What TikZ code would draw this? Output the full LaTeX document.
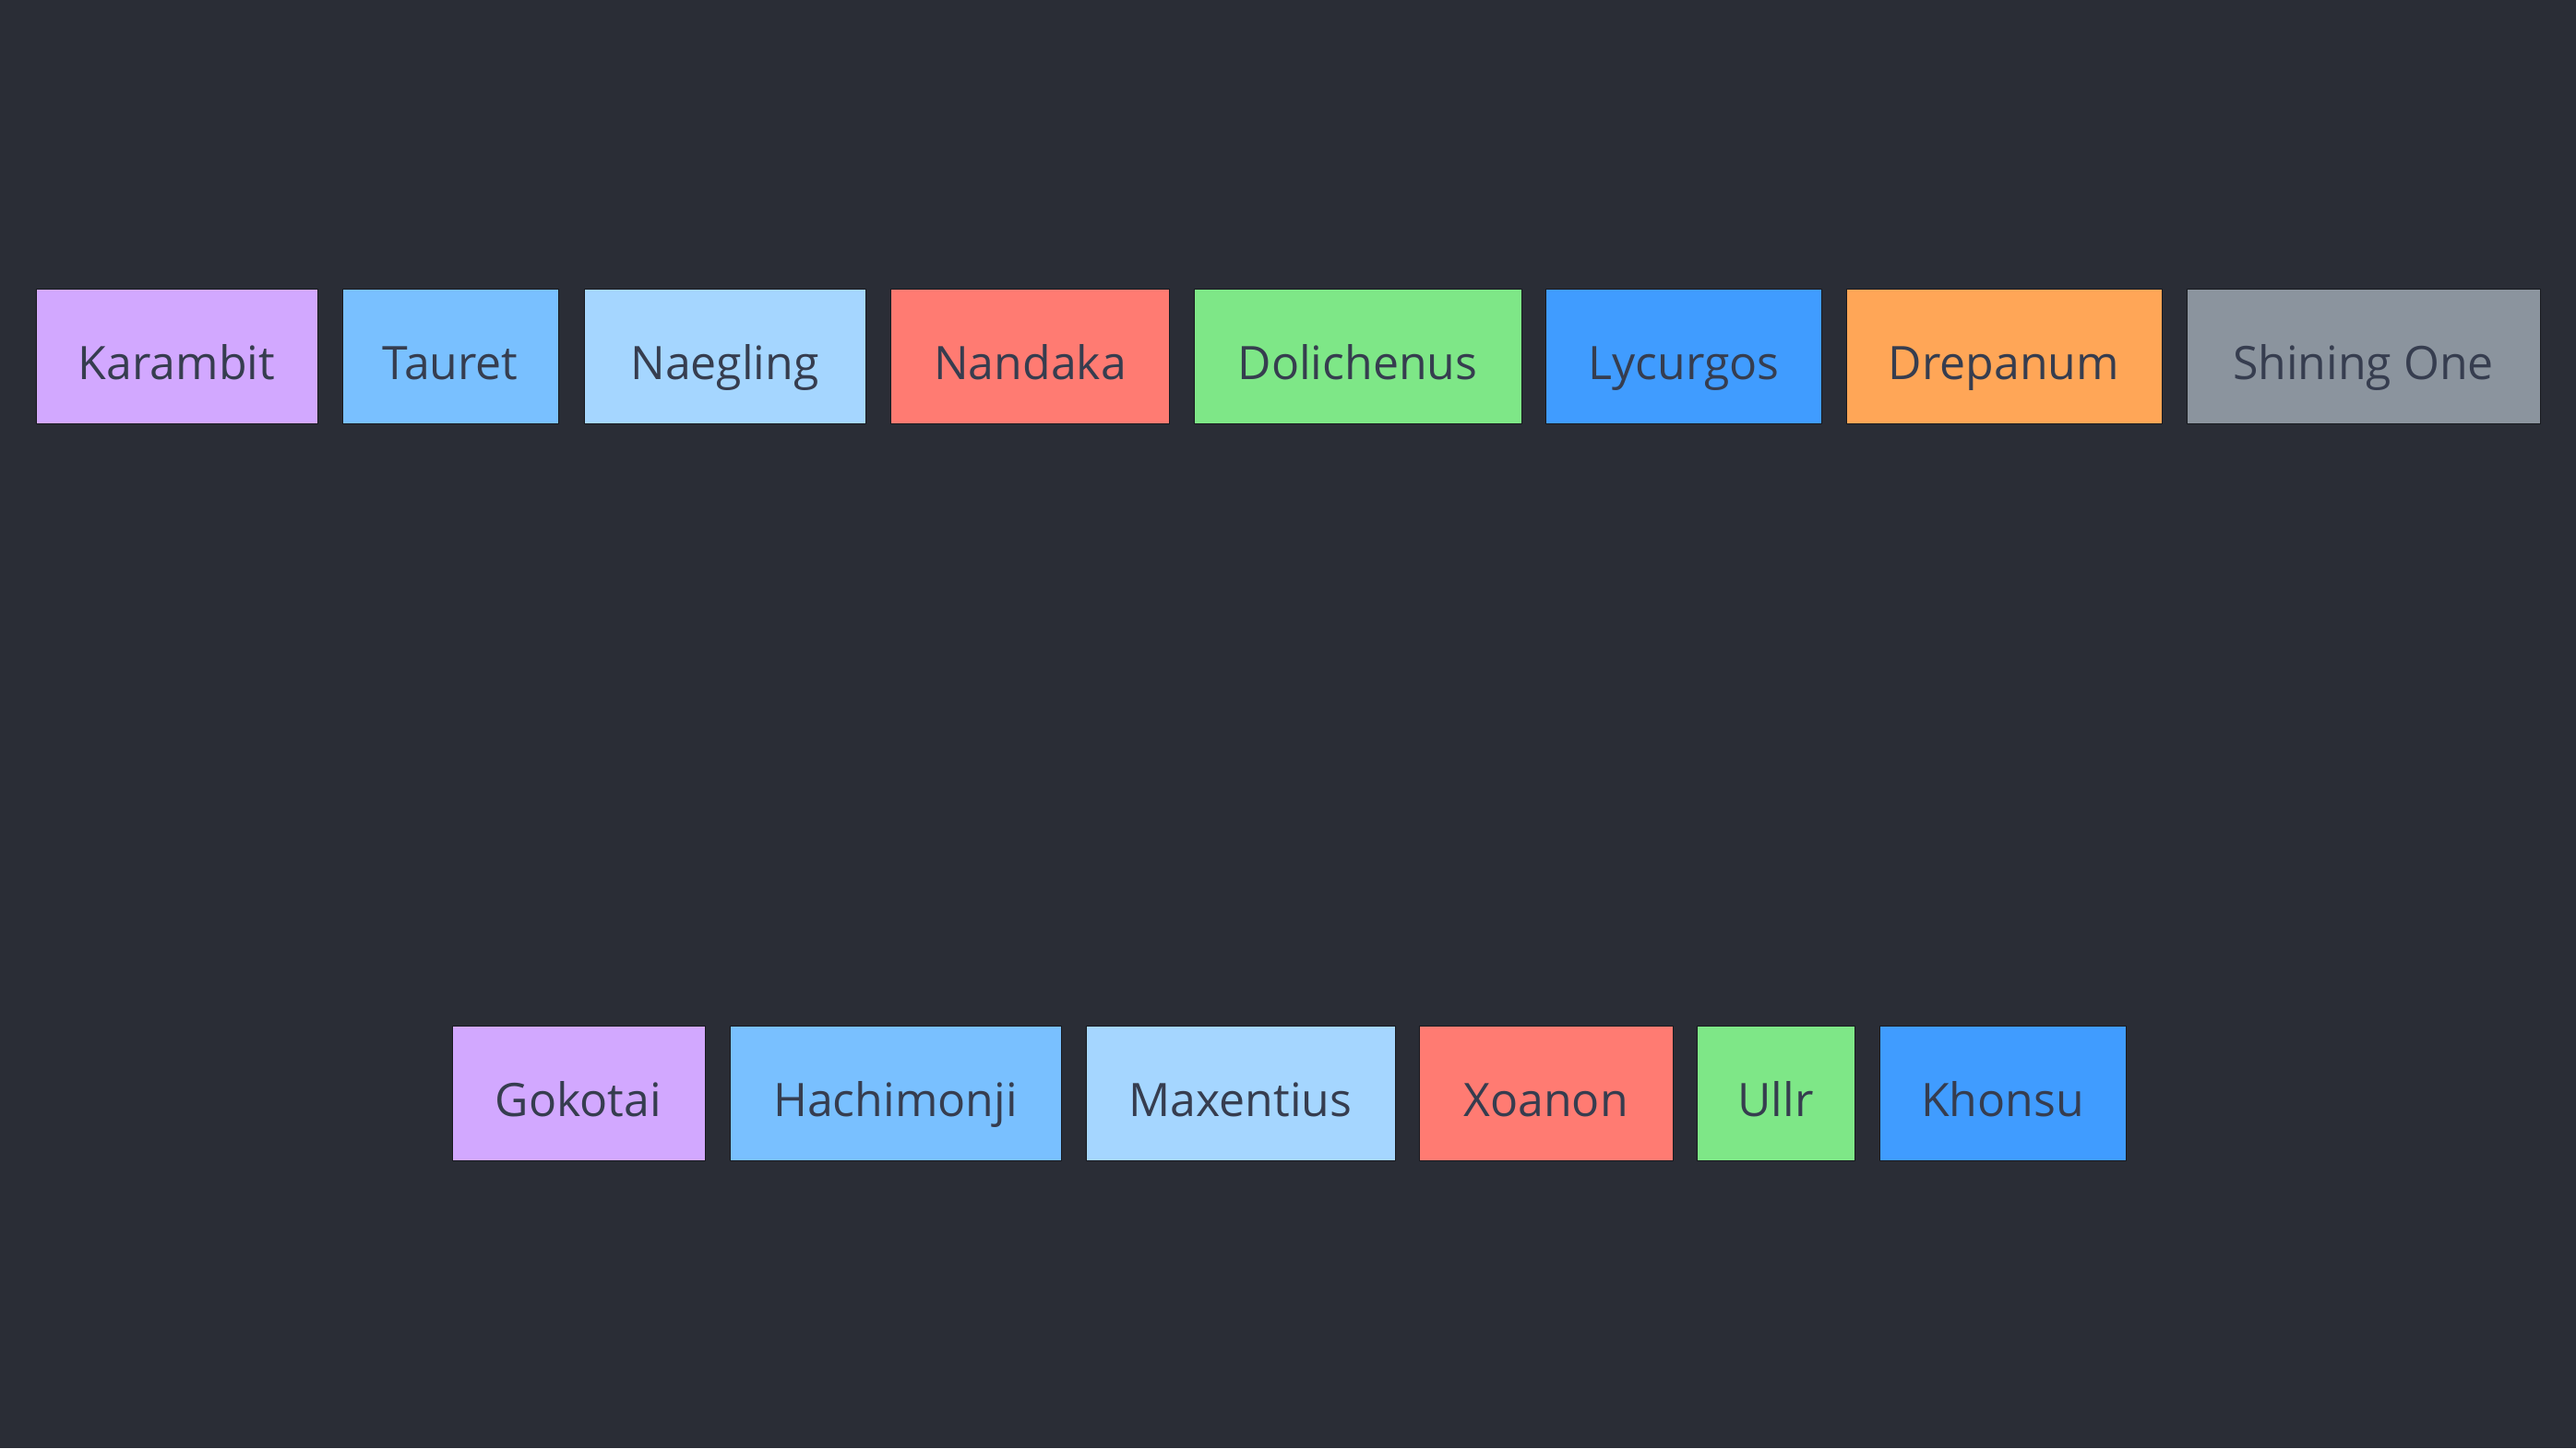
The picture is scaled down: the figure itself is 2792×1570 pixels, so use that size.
\documentclass[tikz,border=0pt]{standalone}
\usepackage{fontspec}
\setmainfont{Open Sans}
\definecolor{bg}{HTML}{2A2D36}
\definecolor{txt}{HTML}{363D4F}
\definecolor{cpurple}{HTML}{D2A8FF}
\definecolor{cblue}{HTML}{79C0FF}
\definecolor{clblue}{HTML}{A5D6FF}
\definecolor{cred}{HTML}{FF7B72}
\definecolor{cgreen}{HTML}{7EE787}
\definecolor{cdblue}{HTML}{409CFF}
\definecolor{corange}{HTML}{FFA657}
\definecolor{cgray}{HTML}{8B949E}
\tikzset{
  box/.style={rectangle, inner sep=0pt, minimum height=73pt, text=txt,
    font=\fontsize{25}{30}\selectfont, text height=18pt, text depth=0pt,
    draw=bg!60!black, line width=0.4pt}
}
\begin{document}
\begin{tikzpicture}[x=0.5pt,y=-0.5pt]
\fill[bg] (0,0) rectangle (2792,1570);
\useasboundingbox (0,0) rectangle (2792,1570);
% row 1
\node[box, fill=cpurple, minimum width=152.5pt] (karambit) at (191.5,386) {\raisebox{-3.5pt}{Karambit}};
\node[box, fill=cblue, minimum width=117pt] (tauret) at (488,386) {\raisebox{-3.5pt}{Tauret}};
\node[box, fill=clblue, minimum width=152.5pt] (naegling) at (785.5,386) {\raisebox{-3.5pt}{Naegling}};
\node[box, fill=cred, minimum width=151pt] (nandaka) at (1116.5,386) {\raisebox{-3.5pt}{Nandaka}};
\node[box, fill=cgreen, minimum width=177.5pt] (dolichenus) at (1471.5,386) {\raisebox{-3.5pt}{Dolichenus}};
\node[box, fill=cdblue, minimum width=149.5pt] (lycurgos) at (1825,386) {\raisebox{-3.5pt}{Lycurgos}};
\node[box, fill=corange, minimum width=171pt] (drepanum) at (2172,386) {\raisebox{-3.5pt}{Drepanum}};
\node[box, fill=cgray, minimum width=191.5pt] (shiningone) at (2561.5,386) {\raisebox{-3.5pt}{Shining One}};
% row 2
\node[box, fill=cpurple, minimum width=137pt] (gokotai) at (627,1185.5) {\raisebox{-3.5pt}{Gokotai}};
\node[box, fill=cblue, minimum width=179.5pt] (hachimonji) at (970.5,1185.5) {\raisebox{-3.5pt}{Hachimonji}};
\node[box, fill=clblue, minimum width=167.5pt] (maxentius) at (1344.5,1185.5) {\raisebox{-3.5pt}{Maxentius}};
\node[box, fill=cred, minimum width=137.5pt] (xoanon) at (1675.5,1185.5) {\raisebox{-3.5pt}{Xoanon}};
\node[box, fill=cgreen, minimum width=85.5pt] (ullr) at (1924.5,1185.5) {\raisebox{-3.5pt}{Ullr}};
\node[box, fill=cdblue, minimum width=133.5pt] (khonsu) at (2170.5,1185.5) {\raisebox{-3.5pt}{Khonsu}};
\end{tikzpicture}
\end{document}
